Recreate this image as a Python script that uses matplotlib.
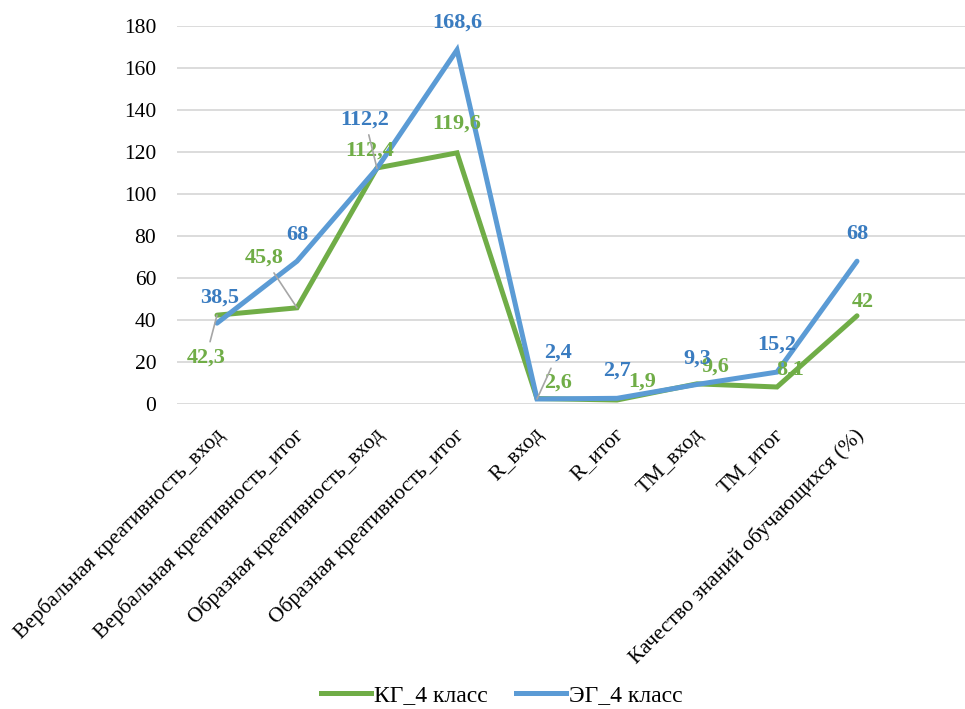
import matplotlib.pyplot as plt
import matplotlib.transforms as mtransforms
from matplotlib.lines import Line2D

plt.rcParams['font.family'] = ['Liberation Serif', 'DejaVu Serif']

categories = ['Вербальная креативность_вход', 'Вербальная креативность_итог',
              'Образная креативность_вход', 'Образная креативность_итог',
              'R_вход', 'R_итог', 'ТМ_вход', 'ТМ_итог',
              'Качество знаний обучающихся (%)']
kg = [42.3, 45.8, 112.4, 119.6, 2.6, 1.9, 9.6, 8.1, 42]
eg = [38.5, 68, 112.2, 168.6, 2.4, 2.7, 9.3, 15.2, 68]
kg_text = ['42,3', '45,8', '112,4', '119,6', '2,6', '1,9', '9,6', '8,1', '42']
eg_text = ['38,5', '68', '112,2', '168,6', '2,4', '2,7', '9,3', '15,2', '68']

green = '#70AD47'
blue = '#5B9BD5'
blue_txt = '#3A7CC0'

fig = plt.figure(figsize=(9.65, 7.09), dpi=100)
ax = fig.add_axes([177/965, 1-404/709, 788/965, 378/709])

x = list(range(len(categories)))
ax.plot(x, kg, color=green, lw=3.6, solid_capstyle='round', solid_joinstyle='miter', zorder=3)
ax.plot(x, eg, color=blue, lw=3.6, solid_capstyle='round', solid_joinstyle='miter', zorder=4)

ax.set_xlim(-0.5, 9.35)
ax.set_ylim(0, 180)
ax.set_yticks(range(0, 181, 20))
ax.yaxis.grid(True, color='#D9D9D9', lw=1.3)
ax.set_axisbelow(True)
for s in ax.spines.values():
    s.set_visible(False)
ax.tick_params(axis='y', length=0, pad=15, labelsize=15.5)
ax.tick_params(axis='x', length=0)
ax.set_xticks(x)
ax.set_xticklabels(categories, rotation=45, ha='right', va='top',
                   rotation_mode='anchor', fontsize=15.5)
shift = mtransforms.ScaledTranslation(-3/100, -16/100, fig.dpi_scale_trans)
for lab in ax.get_xticklabels():
    lab.set_transform(lab.get_transform() + shift)

# label offsets in pixels (dx, dy up)
kg_off = [(-11, -42), (-33, 50), (-7, 17), (0, 29), (21, 16), (25, 18), (18, 17), (13, 17), (6, 14)]
eg_off = [(3, 26), (0, 26), (-12, 49), (0, 27), (21, 46), (0, 28), (0, 26), (0, 27), (0, 27)]
kg_lead = [True, True, False, False, False, False, False, False, False]
eg_lead = [False, False, True, False, True, False, False, False, False]

def label(vals, texts, offs, leads, col):
    for i, (v, t, o, ld) in enumerate(zip(vals, texts, offs, leads)):
        ap = None
        if ld:
            ap = dict(arrowstyle='-', color='#A6A6A6', lw=1.2, shrinkA=2, shrinkB=0)
        ax.annotate(t, (i, v), xytext=o, textcoords='offset pixels',
                    ha='center', va='center', fontsize=16, fontweight='bold',
                    color=col, arrowprops=ap, zorder=5)

label(kg, kg_text, kg_off, kg_lead, green)
label(eg, eg_text, eg_off, eg_lead, blue_txt)

handles = [Line2D([], [], color=green, lw=3.6), Line2D([], [], color=blue, lw=3.6)]
fig.legend(handles, ['КГ_4 класс', 'ЭГ_4 класс'], loc='center',
           bbox_to_anchor=(502/965, 1-695/709), ncol=2, frameon=False,
           fontsize=17, handlelength=2.1, columnspacing=1.2, handletextpad=0.15)

fig.savefig('out.png', dpi=100)
